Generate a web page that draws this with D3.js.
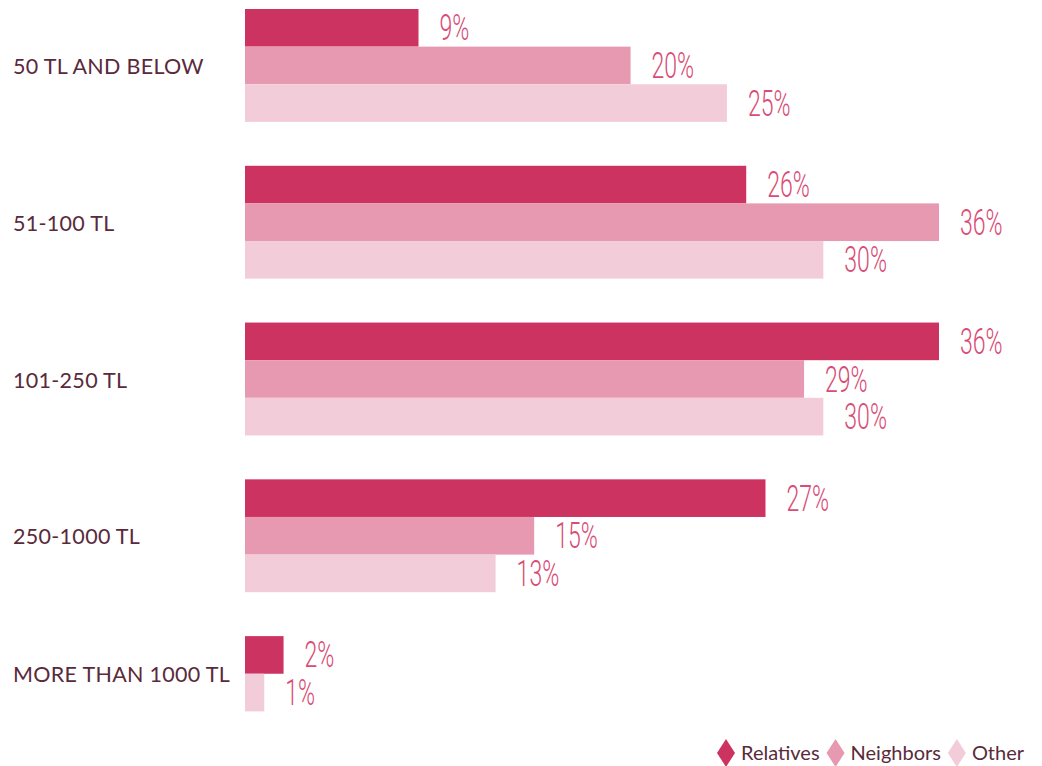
<!DOCTYPE html>
<html>
<head>
<meta charset="utf-8">
<script src="https://cdn.jsdelivr.net/npm/d3@7"></script>
<style>
  html, body { margin: 0; padding: 0; background: #ffffff; }
  svg { display: block; }
</style>
</head>
<body>
<svg id="chart" width="1042" height="766"></svg>
<script>
// Spending brackets and share of respondents per source (percent)
const categories = ["50 TL AND BELOW", "51-100 TL", "101-250 TL", "250-1000 TL", "MORE THAN 1000 TL"];
const seriesNames = ["Relatives", "Neighbors", "Other"];
const relatives = [9, 26, 36, 27, 2];
const neighbors = [20, 36, 29, 15, null];
const other = [25, 30, 30, 13, 1];
const seriesColors = ["#cc3360", "#e699b0", "#f2ccd9"];

const seriesValues = [relatives, neighbors, other];

const svg = d3.select("#chart");
const labelColor = "#5a2a3a";
const valueColor = "#d94c76";

const x = d3.scaleLinear().domain([0, 36]).range([245, 939]);
const y = d3.scaleBand().domain(categories).range([9, 749]).paddingInner(0.28).paddingOuter(0);
const barH = y.bandwidth() / seriesNames.length;

// Build rows: each category keeps only the series it has, stacked from the top of its band
const rows = [];
categories.forEach((cat, ci) => {
  let slot = 0;
  seriesNames.forEach((s, si) => {
    const v = seriesValues[si][ci];
    if (v === null || v === undefined) return;
    rows.push({ cat, series: s, si, value: v, slot });
    slot++;
  });
});

const g = svg.append("g");

g.selectAll("rect.bar")
  .data(rows)
  .join("rect")
  .attr("class", "bar")
  .attr("x", x(0))
  .attr("y", d => y(d.cat) + d.slot * barH)
  .attr("width", d => x(d.value) - x(0))
  .attr("height", barH)
  .attr("fill", d => seriesColors[d.si]);

// Value labels in a thin condensed face
g.selectAll("text.val")
  .data(rows)
  .join("text")
  .attr("class", "val")
  .attr("transform", d => `translate(${x(d.value) + 21},${y(d.cat) + d.slot * barH + barH / 2 + 12.5}) scale(0.64,1)`)
  .attr("font-family", "Roboto, 'Liberation Sans Narrow', sans-serif")
  .attr("font-weight", 300)
  .attr("font-size", 36)
  .attr("fill", valueColor)
  .text(d => d.value + "%");

// Category labels, centred on the bars actually drawn
g.selectAll("text.cat")
  .data(categories)
  .join("text")
  .attr("class", "cat")
  .attr("x", 13)
  .attr("y", (c, ci) => {
    const n = seriesValues.filter(sv => sv[ci] !== null && sv[ci] !== undefined).length;
    return y(c) + (n * barH) / 2 + 1;
  })
  .attr("dy", "0.35em")
  .attr("font-family", "Lato, 'Noto Sans', sans-serif")
  .attr("font-size", 21.5)
  .attr("letter-spacing", 0.3)
  .attr("fill", labelColor)
  .text(d => d);

// Legend with diamond markers, right aligned at the bottom
const legend = svg.append("g").attr("transform", "translate(0,753)");
let lx = 717;
seriesNames.forEach((s, i) => {
  const item = legend.append("g").attr("transform", `translate(${lx},0)`);
  item.append("path")
    .attr("d", "M9,-14 L18,0 L9,14 L0,0 Z")
    .attr("fill", seriesColors[i]);
  const t = item.append("text")
    .attr("x", 24)
    .attr("dy", "0.35em")
    .attr("font-family", "Lato, 'Noto Sans', sans-serif")
    .attr("font-size", 20)
    .attr("fill", labelColor)
    .text(s);
  lx += 24 + t.node().getComputedTextLength() + 7;
});
</script>
</body>
</html>
